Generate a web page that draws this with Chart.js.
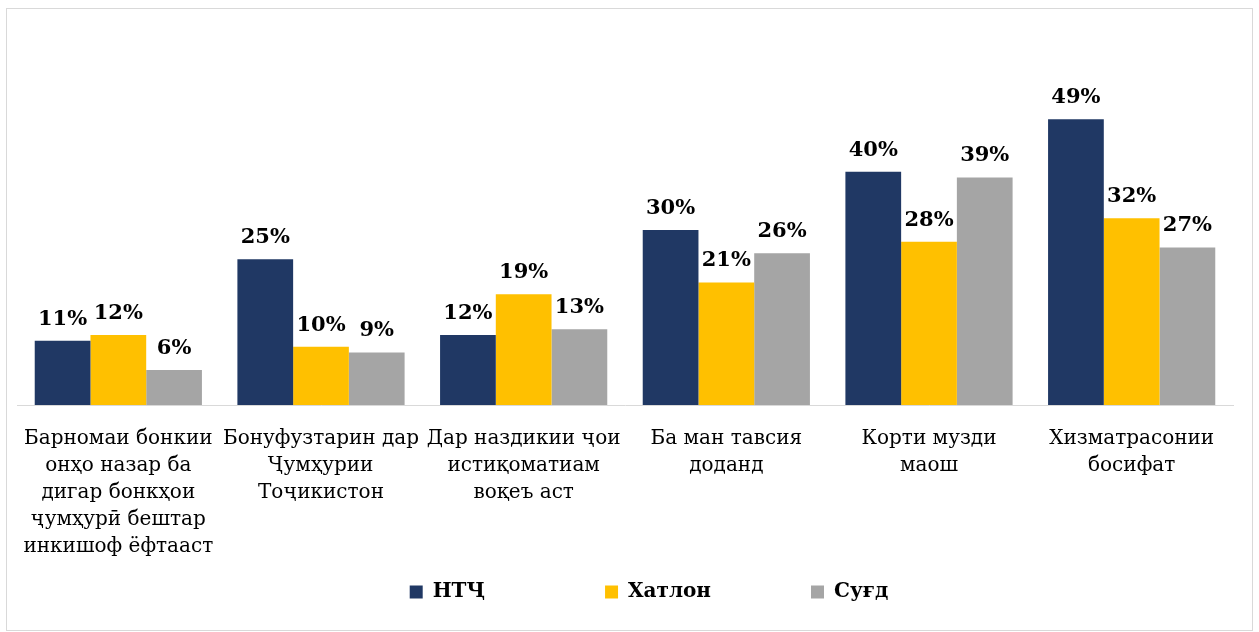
<!DOCTYPE html>
<html>
<head>
<meta charset="utf-8">
<script src="https://cdn.jsdelivr.net/npm/chart.js@4.4.0/dist/chart.umd.min.js"></script>
<style>
    body { margin: 0; background: #fff; }
    #box {
        position: absolute;
        left: 6px; top: 8px;
        width: 1245px; height: 621px;
        border: 1px solid #d9d9d9;
    }
</style>
</head>
<body>
<div id="box"><canvas id="barChart"></canvas></div>
<script>
const categories = [
    ['Барномаи бонкии', 'онҳо назар ба', 'дигар бонкҳои', 'ҷумҳурӣ бештар', 'инкишоф ёфтааст'],
    ['Бонуфузтарин дар', 'Ҷумҳурии', 'Тоҷикистон'],
    ['Дар наздикии ҷои', 'истиқоматиам', 'воқеъ аст'],
    ['Ба ман тавсия', 'доданд'],
    ['Корти музди', 'маош'],
    ['Хизматрасонии', 'босифат']
];
const seriesNames = ['НТҶ', 'Хатлон', 'Суғд'];
const ntjValues = [11, 25, 12, 30, 40, 49];
const khatlonValues = [12, 10, 19, 21, 28, 32];
const sughdValues = [6, 9, 13, 26, 39, 27];

const FONT = "'DejaVu Serif', serif";

const valueLabels = {
    id: 'valueLabels',
    afterDatasetsDraw(chart) {
        const ctx = chart.ctx;
        ctx.save();
        ctx.font = 'bold 21px ' + FONT;
        ctx.fillStyle = '#000';
        ctx.textAlign = 'center';
        ctx.textBaseline = 'bottom';
        chart.data.datasets.forEach((ds, i) => {
            chart.getDatasetMeta(i).data.forEach((bar, j) => {
                ctx.fillText(ds.data[j] + '%', bar.x, bar.y - 11);
            });
        });
        ctx.restore();
    }
};

// legend in the original sits a bit right of centre
const legendShift = {
    id: 'legendShift',
    afterLayout(chart) {
        chart.legend.left += 24;
        chart.legend.right += 24;
    }
};

// extra gap (en spaces) after each legend entry except the last
const legendGaps = [11, 9, 0];

document.addEventListener('DOMContentLoaded', () => {
    const ctx = document.getElementById('barChart').getContext('2d');
    new Chart(ctx, {
        type: 'bar',
        data: {
            labels: categories,
            datasets: [
                { label: seriesNames[0], data: ntjValues, backgroundColor: '#203864' },
                { label: seriesNames[1], data: khatlonValues, backgroundColor: '#FFC000' },
                { label: seriesNames[2], data: sughdValues, backgroundColor: '#A5A5A5' }
            ]
        },
        options: {
            responsive: true,
            maintainAspectRatio: false,
            animation: false,
            layout: { padding: { top: 46, left: 10, right: 19, bottom: 18 } },
            datasets: {
                bar: { categoryPercentage: 0.825, barPercentage: 1.0 }
            },
            plugins: {
                legend: {
                    position: 'bottom',
                    labels: {
                        font: { family: FONT, size: 20, weight: 'bold' },
                        color: '#000',
                        boxWidth: 13,
                        boxHeight: 13,
                        padding: 10,
                        generateLabels(chart) {
                            const items = Chart.defaults.plugins.legend.labels.generateLabels(chart);
                            items.forEach((it, i) => {
                                it.text = it.text + '\u2002'.repeat(legendGaps[i]);
                                it.lineWidth = 0;
                            });
                            return items;
                        }
                    }
                },
                tooltip: { enabled: false }
            },
            scales: {
                x: {
                    grid: { display: false },
                    border: { color: '#d9d9d9', width: 1 },
                    ticks: {
                        font: { family: FONT, size: 20, lineHeight: 1.35 },
                        color: '#000',
                        maxRotation: 0,
                        autoSkip: false,
                        padding: 12
                    },
                    afterFit(scale) { scale.height = 167; }
                },
                y: {
                    display: false,
                    min: 0,
                    max: 60
                }
            }
        },
        plugins: [valueLabels, legendShift]
    });
});
</script>
</body>
</html>
